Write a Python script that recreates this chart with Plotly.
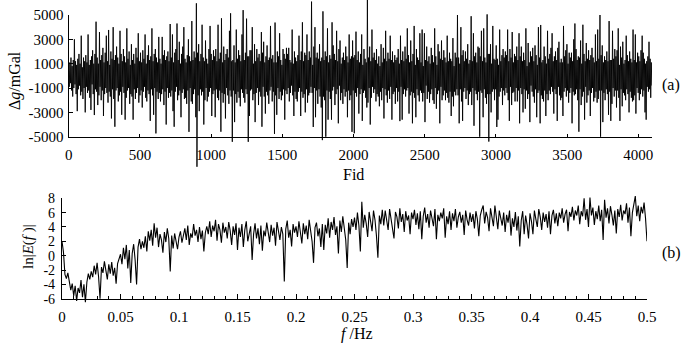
import numpy as np
import plotly.graph_objects as go

# ---------------- data ----------------
# (a) gravity anomaly, one value every 4 Fid, mGal
gravity_mgal = [
    400, -900, 1100, -600, 1500, -1200, 800, -1700, 1300, -1000, 3000, -700, 1200, -1500, 900, -2900,
    1400, -1100, 1800, -800, 1000, -1600, 3300, -1300, 700, -1900, 1500, -1000, 1200, -3000, 1700, -900,
    1100, -1400, 3400, -1200, 900, -1800, 1300, -2800, 1600, -700, 2100, -1500, 1000, -3220, 1800, -1100,
    4450, -1300, 1500, -2400, 1000, -1600, 3600, -900, 1300, -2000, 1700, -1200, 2300, -3300, 1100, -1500,
    1900, -1000, 3300, -1400, 1200, -2200, 3770, -1300, 900, -1700, 2000, -3500, 1400, -1100, 4000, -1900,
    1300, -4180, 1700, -1200, 2400, -1000, 1500, -2100, 1000, -1600, 3700, -1300, 1800, -3200, 1200, -900,
    2200, -1400, 1600, -3600, 1100, -1800, 3900, -1200, 1400, -1000, 2000, -2300, 900, -1500, 2600, -1700,
    1300, -3600, 1800, -1100, 1000, -1900, 2300, -1400, 1500, -1000, 3500, -2200, 1200, -1600, 1900, -1200,
    1100, -2600, 2100, -1300, 1400, -900, 3400, -1800, 1000, -2100, 1700, -1200, 2500, -1500, 1300, -3700,
    1600, -1100, 3900, -1600, 1200, -3200, 1800, -1000, 2200, -4730, 1500, -1300, 1100, -1900, 3200, -1400,
    1400, -2100, 1000, -1500, 3200, -1100, 1700, -2400, 2100, -1300, 1300, -4000, 1600, -1000, 2000, -1800,
    1200, -1400, 4260, -1700, 1500, -1200, 3400, -2900, 1100, -4180, 1900, -1300, 2200, -900, 4300, -2000,
    1300, -1600, 2800, -1200, 1000, -3400, 1800, -1400, 2400, -1100, 4000, -1900, 1400, -1800, 1100, -2300,
    1700, -1200, 3000, -4600, 1600, -1000, 1200, -2100, 4500, -2300, 1300, -1500, 2000, -1100, 1500, -3400,
    5960, -7470, 1900, -1600, 2600, -2900, 1200, -1100, 1800, -1600, 4200, -1300, 1500, -4000, 1200, -2000,
    2900, -1000, 1400, -2100, 1000, -1700, 2200, -1300, 4100, -1000, 1800, -3300, 1300, -1500, 2100, -1200,
    1600, -3400, 2200, -1100, 1200, -1800, 4200, -2000, 1400, -1200, 1900, -4590, 4730, -1400, 1100, -2200,
    2400, -1500, 1300, -3500, 1800, -1000, 2200, -1600, 1500, -2300, 3700, -1200, 5140, -1700, 1200, -5420,
    1300, -1200, 2500, -3800, 1100, -1500, 3800, -2200, 1400, -1300, 2100, -1800, 1700, -2500, 1200, -1100,
    3400, -1400, 5400, -1800, 1300, -2200, 1900, -1100, 4700, -1500, 1600, -5420, 1600, -3300, 2100, -1200,
    2100, -1100, 4000, -2000, 1000, -1500, 2600, -3800, 1200, -1400, 2200, -1000, 1500, -2400, 1800, -1300,
    1200, -1700, 3600, -4180, 1900, -900, 2800, -1700, 1100, -3100, 1600, -1300, 2500, -1600, 1300, -2300,
    1500, -1200, 4100, -900, 1400, -2100, 1700, -1300, 1100, -4770, 4380, -1600, 1100, -3200, 2000, -1000,
    1600, -1900, 3500, -1300, 1300, -2000, 900, -1600, 2200, -1100, 1800, -3600, 1400, -1200, 2300, -1500,
    1800, -1000, 2300, -2100, 1300, -1400, 1100, -800, 3800, -1600, 1000, -3300, 2000, -1300, 1500, -1900,
    1200, -2100, 1700, -1300, 3300, -1000, 1300, -3300, 2000, -1300, 4400, -1800, 1200, -1500, 1900, -3000,
    1700, -1100, 3400, -2200, 1300, -1600, 2000, -1400, 1500, -900, 6100, -1400, 900, -4200, 2400, -1000,
    4000, -3400, 1500, -1200, 1900, -2300, 1400, -1100, 2600, -1700, 1200, -2600, 1500, -5280, 5300, -1700,
    1300, -2000, 2000, -5000, 1600, -1200, 3900, -3600, 1100, -1300, 1700, -1900, 1400, -3600, 4400, -1200,
    2500, -900, 1800, -2400, 1300, -1500, 3700, -1100, 1200, -3900, 2200, -800, 2900, -2000, 1000, -1400,
    1500, -2300, 1900, -1100, 1300, -1700, 2400, -1300, 1600, -3400, 1100, -1200, 3400, -2000, 1400, -1600,
    1600, -4600, 2900, -1200, 1500, -4720, 1700, -1400, 3630, -1700, 1300, -1000, 2000, -3100, 1100, -1500,
    1800, -1100, 3400, -3700, 900, -1400, 2200, -1200, 1400, -1800, 1100, -2600, 6230, -2200, 1500, -1000,
    2400, -4000, 1200, -1800, 3800, -900, 1500, -1400, 1900, -1100, 1300, -2100, 2200, -1500, 1000, -1700,
    1600, -2500, 800, -1300, 2600, -2000, 1100, -1000, 2300, -3500, 1400, -1100, 3700, -1600, 1200, -2200,
    1900, -1200, 1400, -1900, 3300, -900, 1300, -3600, 2000, -1500, 1100, -1300, 1700, -2300, 1300, -1000,
    1500, -2100, 2200, -1300, 1000, -3720, 3300, -900, 1300, -3600, 2000, -1500, 1200, -1100, 2400, -1700,
    1400, -1200, 3900, -1000, 1700, -3100, 1100, -1600, 2900, -1300, 1200, -3900, 1800, -1400, 4100, -1800,
    900, -3400, 2200, -1100, 1500, -1600, 1300, -2100, 3500, -1200, 1100, -1400, 3800, -2100, 800, -1400,
    3500, -3800, 1300, -800, 2400, -1900, 1200, -1300, 1600, -2200, 1000, -1500, 2300, -1100, 1700, -2000,
    1100, -2300, 3900, -1000, 1600, -2700, 900, -1500, 2600, -1200, 2000, -3900, 1400, -900, 2900, -2000,
    1300, -1600, 2100, -1200, 1500, -2000, 1100, -1400, 3300, -1800, 1200, -2200, 1900, -1300, 1400, -3300,
    1200, -1700, 3100, -2500, 800, -1300, 1900, -1600, 1500, -1100, 5000, -1600, 1500, -3900, 1000, -1100,
    4000, -2100, 1700, -3700, 2100, -1300, 1200, -1000, 2000, -1900, 1400, -1200, 2600, -2400, 1000, -1500,
    1300, -1300, 4900, -2400, 1200, -1000, 3500, -4100, 1600, -1200, 1900, -1500, 1100, -2000, 2400, -1300,
    2300, -5000, 1600, -1200, 3700, -1400, 1200, -3400, 3900, -1100, 1500, -1800, 1100, -2300, 5050, -1500,
    1800, -5400, 1800, -1500, 2600, -3000, 1000, -1300, 4100, -1100, 1400, -2000, 1300, -1100, 2500, -4200,
    1400, -3600, 900, -1700, 3800, -1300, 1200, -1000, 1700, -2400, 2200, -1200, 1500, -1600, 2000, -1000,
    1700, -1400, 3800, -2000, 1200, -3700, 2200, -900, 1500, -2400, 3600, -1400, 1100, -1300, 1800, -2100,
    1600, -1000, 2400, -2100, 1300, -1200, 3500, -3900, 1600, -1000, 2400, -1500, 1200, -3000, 1900, -1100,
    1300, -2700, 3900, -1200, 800, -1900, 2700, -1500, 1100, -3800, 2000, -800, 1600, -1300, 2300, -1700,
    1200, -2200, 2500, -1100, 1700, -3400, 900, -1400, 4000, -1200, 1500, -3900, 4180, -1600, 1100, -1900,
    1300, -2100, 2400, -1200, 1600, -3300, 1000, -1500, 3700, -2000, 1400, -1200, 1800, -1500, 2300, -900,
    3500, -1300, 1200, -3100, 1600, -1100, 2000, -1500, 1300, -3700, 2300, -900, 2800, -1600, 1100, -2000,
    1400, -1800, 1100, -3300, 4100, -1300, 1600, -1000, 2100, -1700, 2600, -1200, 1000, -2200, 1900, -1400,
    1500, -1000, 1900, -3900, 1200, -1300, 3000, -1600, 4300, -1500, 2200, -1100, 1300, -2000, 1600, -4590,
    1500, -1100, 2900, -2400, 1000, -1700, 4200, -1300, 1800, -3600, 1200, -900, 2700, -2200, 1400, -1600,
    2100, -1200, 1300, -3300, 1700, -1400, 2300, -1000, 1500, -2100, 1100, -1800, 3400, -1300, 1200, -2200,
    3800, -1900, 1400, -1200, 5000, -5000, 1700, -1200, 2500, -3800, 1100, -1400, 1600, -2000, 1300, -1100,
    2000, -1500, 1200, -3200, 4500, -1300, 1300, -3700, 1300, -2300, 3700, -1000, 1400, -1700, 2200, -1200,
    1600, -2600, 2100, -1200, 3900, -1800, 900, -3700, 2400, -1100, 1500, -2500, 2800, -1400, 1000, -1600,
    1300, -2000, 3300, -1100, 1700, -1500, 1200, -3000, 2000, -1300, 1400, -1800, 1100, -2100, 3800, -2000,
    1300, -1600, 3400, -3100, 1100, -1000, 1900, -1400, 1600, -2000, 1200, -1500, 2100, -1100, 3300, -1700,
    1900, -1200, 1400, -3000, 1000, -3600, 1200, -900, 1600, -1300, 2800, -1100, 1400, -1800, 1100, -800,
]
fid_last = 4095

# (b) ln|E(f)|, frequency 0 .. 0.5 Hz
ln_spectrum = [
    2.0, 0.5, -2.6, -3.2, -2.4, -3.6, -4.8, -3.9, -5.6, -4.2, -6.3, -4.5, -5.2, -3.4, -5.8, -4.0, -6.5, -3.7, -2.5, -3.3,
    -2.2, -3.0, -1.4, -2.6, -1.0, -2.9, -6.0, -1.6, -2.4, -0.8, -2.0, -3.3, -1.2, -2.5, -0.9, -2.8, -1.7, -3.9, -1.1, -0.4,
    0.2, -1.2, 1.1, -0.5, 1.5, -1.8, 0.8, -3.8, 0.3, 1.6, -0.6, -4.0, 1.2, 2.3, 0.9, 2.0, 1.1, 2.7, 0.6, 3.4,
    2.1, 3.6, 1.4, 4.5, 2.5, 3.9, 1.2, 3.0, 2.2, 0.4, 3.3, 1.9, 3.8, 2.4, -2.2, 2.8, 1.0, 3.1, 2.0, 0.9,
    2.6, 3.4, 1.8, 2.9, 3.8, 2.2, 4.2, 1.5, 3.1, 2.5, 4.4, 2.8, 3.6, 1.9, 4.0, 2.3, 3.5, 0.6, 3.2, 4.1,
    3.0, 4.8, 2.6, 4.2, 3.4, 5.0, 2.1, 4.4, 3.6, 1.8, 4.6, 3.2, 4.0, 2.4, 4.7, 3.5, 1.5, 4.1, 2.9, 4.5,
    0.8, 3.9, 2.6, 4.4, 1.2, 3.6, 4.8, 2.0, 3.3, 4.1, -0.6, 3.0, 4.5, 2.4, 3.8, 1.6, 4.2, 0.7, 3.5, 2.7,
    4.6, 3.1, 1.9, 4.3, 2.8, 3.9, 1.4, 4.7, 3.3, 2.2, 4.0, 3.0, -3.6, 3.7, 4.9, 2.5, 3.6, 1.3, 4.4, 3.2,
    4.1, 2.6, 4.8, 3.4, 1.7, 4.5, 3.0, 4.2, 2.3, 5.0, 3.5, 2.0, -1.0, 3.9, 4.6, 2.7, 3.8, 1.2, 4.4, 0.8,
    4.3, 3.1, 5.2, 2.5, 4.7, 3.6, 5.4, 2.9, 4.1, 0.3, 4.9, 3.3, 5.5, 3.8, 2.2, -1.7, 4.6, 3.0, 5.1, 4.0,
    5.3, 3.6, 6.0, 4.2, 0.6, 7.5, 3.9, 5.7, 4.5, 2.6, 6.1, 4.8, 3.4, 6.3, 5.0, 2.8, -0.3, 5.6, 4.4, 6.4,
    4.2, 6.3, 5.0, 3.6, 6.5, 5.2, 4.0, 2.4, 6.1, 5.4, 3.8, 6.6, 4.7, 5.8, 3.3, 6.2, 4.9, 5.6, 3.0, 6.0,
    5.1, 6.4, 4.3, 5.9, 3.7, 6.2, 2.3, 5.5, 6.7, 4.6, 5.8, 3.9, 6.3, 5.0, 4.1, 6.5, 2.3, 5.7, 4.8, 6.0,
    5.2, 6.6, 2.5, 5.5, 4.4, 6.2, 3.6, 5.9, 4.8, 6.5, 3.9, 5.4, 6.1, 4.6, 5.7, 2.9, 6.3, 5.0, 4.2, 6.0,
    4.7, 5.8, 3.8, 6.2, 5.1, 2.7, 5.6, 6.4, 7.0, 4.5, 6.1, 5.3, 3.4, 6.6, 5.0, 4.1, 7.0, 5.5, 3.7, 6.3,
    5.4, 4.2, 6.0, 3.3, 5.7, 4.6, 6.3, 2.8, 5.2, 4.0, 6.1, 3.5, 5.5, 1.3, 4.9, 6.2, 3.0, 5.6, 4.3, 2.4,
    5.9, 4.8, 3.0, 6.3, 5.1, 4.0, 6.5, 5.4, 3.6, 6.0, 4.7, 5.8, 3.9, 6.2, 3.0, 5.6, 6.4, 4.5, 5.9, 4.1,
    6.0, 5.2, 6.6, 4.6, 5.8, 6.4, 3.4, 6.1, 5.4, 6.8, 4.9, 6.3, 5.6, 7.0, 4.4, 6.2, 5.5, 8.0, 5.0, 6.5,
    4.0, 8.1, 5.6, 6.7, 4.3, 6.2, 5.1, 7.0, 4.8, 6.4, 2.2, 7.8, 5.3, 6.6, 4.5, 6.9, 5.7, 4.2, 6.3, 3.1,
    6.5, 5.4, 7.1, 4.9, 6.3, 5.8, 7.3, 4.6, 6.7, 2.7, 6.0, 7.2, 8.3, 5.5, 7.0, 4.8, 6.8, 5.9, 7.4, 5.2,
    2.0,
]
freq_max = 0.5

# tick labels
top_x_ticks = [0, 500, 1000, 1500, 2000, 2500, 3000, 3500, 4000]
top_y_ticks = [5000, 3000, 1000, -1000, -3000, -5000]
bot_x_ticks = [0, 0.05, 0.1, 0.15, 0.2, 0.25, 0.3, 0.35, 0.4, 0.45, 0.5]
bot_x_labels = ["0", "0.05", "0.1", "0.15", "0.2", "0.25", "0.3", "0.35", "0.4", "0.45", "0.5"]
bot_y_ticks = [8, 6, 4, 2, 0, -2, -4, -6]

# ---------------- layout geometry (pixels in a 687x348 page) ----------------
W, H = 687, 348
FONT = "Liberation Serif"

def fx(px):
    return px / W

def fy(py):
    return (H - py) / H

# top panel: visible axis box
a_x0, a_x1 = 68.7, 652.0
a_ytop, a_ybot = 15.0, 136.7          # pixel of 5000 and -5000
a_ppu = (a_ybot - a_ytop) / 10000.0
a_data_top, a_data_bot = 0.0, 175.0   # data may overshoot the frame
a_rng_top = 5000 + (a_ytop - a_data_top) / a_ppu
a_rng_bot = -5000 - (a_data_bot - a_ybot) / a_ppu

# bottom panel
b_x0, b_x1 = 62.0, 647.0
b_ytop, b_ybot = 198.3, 298.7          # pixel of 8 and -6
b_ppu = (b_ybot - b_ytop) / 14.0
b_data_top, b_data_bot = 190.0, 306.0
b_rng_top = 8 + (b_ytop - b_data_top) / b_ppu
b_rng_bot = -6 - (b_data_bot - b_ybot) / b_ppu

fid = np.linspace(0, fid_last, len(gravity_mgal))
freq = np.linspace(0, freq_max, len(ln_spectrum))

fig = go.Figure()
fig.add_trace(go.Scatter(x=[], y=[], xaxis="x", yaxis="y", showlegend=False))
fig.add_trace(go.Scatter(x=[], y=[], xaxis="x3", yaxis="y3", showlegend=False))
fig.add_trace(go.Scatter(x=fid, y=gravity_mgal, xaxis="x2", yaxis="y2", mode="lines",
                         line=dict(color="black", width=0.9), showlegend=False, hoverinfo="skip"))
fig.add_trace(go.Scatter(x=freq, y=ln_spectrum, xaxis="x4", yaxis="y4", mode="lines",
                         line=dict(color="black", width=1.1), showlegend=False, hoverinfo="skip"))

tickfont = dict(family=FONT, size=15, color="black")
common_vis = dict(showgrid=False, zeroline=False, showline=True, linecolor="black", linewidth=1.3,
                  ticks="inside", tickcolor="black", tickwidth=1, automargin=False)
hidden = dict(visible=False, showgrid=False, zeroline=False, automargin=False)

fig.update_layout(
    template="none",
    width=W, height=H,
    margin=dict(l=0, r=0, t=0, b=0, pad=0, autoexpand=False),
    paper_bgcolor="white", plot_bgcolor="rgba(0,0,0,0)",
    font=dict(family=FONT, size=15, color="black"),
    xaxis=dict(domain=[fx(a_x0), fx(a_x1)], range=[0, fid_last + 1], anchor="y",
               tickvals=top_x_ticks, ticktext=[str(v) for v in top_x_ticks],
               ticklen=3, ticklabelstandoff=4, tickfont=tickfont, **common_vis),
    yaxis=dict(domain=[fy(a_ybot), fy(a_ytop)], range=[-5000, 5000], anchor="x",
               tickvals=top_y_ticks, ticktext=[str(v) for v in top_y_ticks],
               ticklen=4, ticklabelstandoff=1, tickfont=tickfont, **common_vis),
    xaxis2=dict(domain=[fx(a_x0), fx(a_x1)], range=[0, fid_last + 1], anchor="y2", **hidden),
    yaxis2=dict(domain=[fy(a_data_bot), fy(a_data_top)], range=[a_rng_bot, a_rng_top], anchor="x2", **hidden),
    xaxis3=dict(domain=[fx(b_x0), fx(b_x1)], range=[0, freq_max], anchor="y3",
                tickvals=bot_x_ticks, ticktext=bot_x_labels, ticklen=5,
                minor=dict(dtick=0.01, tick0=0, ticks="inside", ticklen=3, tickcolor="black", tickwidth=1),
                ticklabelstandoff=4, tickfont=tickfont, **common_vis),
    yaxis3=dict(domain=[fy(b_ybot), fy(b_ytop)], range=[-6, 8], anchor="x3",
                tickvals=bot_y_ticks, ticktext=[str(v) for v in bot_y_ticks],
                ticklen=4, ticklabelstandoff=3, tickfont=dict(family=FONT, size=14, color="black"),
                **common_vis),
    xaxis4=dict(domain=[fx(b_x0), fx(b_x1)], range=[0, freq_max], anchor="y4", **hidden),
    yaxis4=dict(domain=[fy(b_data_bot), fy(b_data_top)], range=[b_rng_bot, b_rng_top], anchor="x4", **hidden),
)

def label(text, px, py, size=16, angle=0):
    fig.add_annotation(text=text, x=fx(px), y=fy(py), xref="paper", yref="paper",
                       showarrow=False, textangle=angle, xanchor="center", yanchor="middle",
                       font=dict(family=FONT, size=size, color="black"))

label("Δ<i>g</i>/mGal", 15, 81, size=16, angle=-90)
label("Fid", 353, 174, size=16)
label("(a)", 671, 85, size=16)
label("ln|<i>E</i>(<i>f</i> )|", 28, 247, size=15, angle=-90)
label("<i>f</i> /Hz", 357, 334, size=16)
label("(b)", 671, 253, size=16)

fig.write_html("out.html", config={"displayModeBar": False},
               post_script="document.body.style.margin='0px';")
